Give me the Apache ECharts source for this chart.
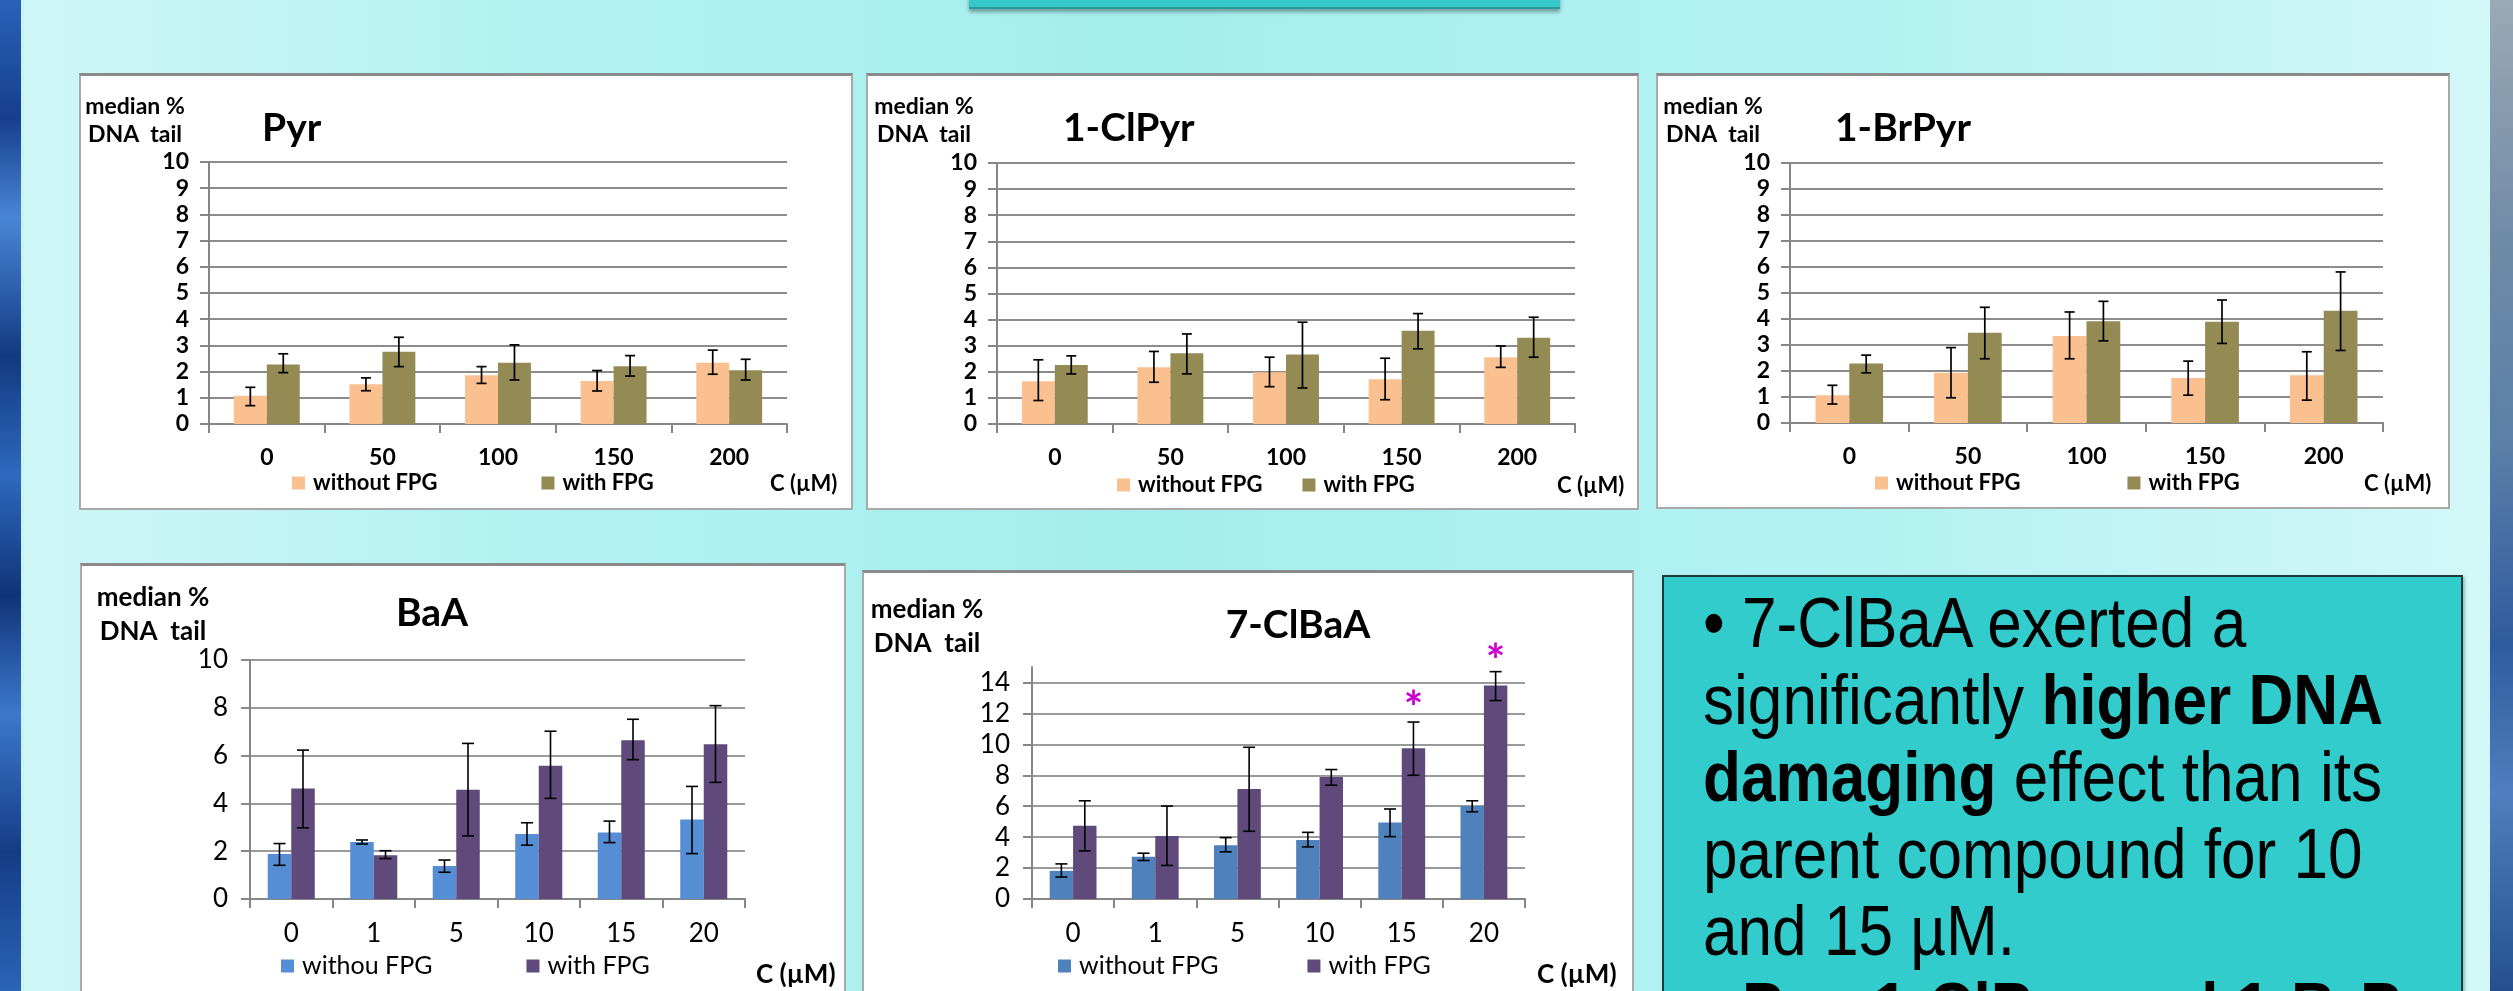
<!DOCTYPE html>
<html>
<head>
<meta charset="utf-8">
<script src="https://cdn.jsdelivr.net/npm/echarts@6/dist/echarts.min.js"></script>
<style>
  html, body { margin: 0; padding: 0; width: 2513px; height: 991px; overflow: hidden; }
  body {
    position: relative;
    background: linear-gradient(90deg, #d0f7f7 0%, #b4f2f2 20%, #a5eeee 45%, #b4f2f2 75%, #d4f8f8 100%);
  }
  .strip-l {
    position: absolute; left: 0; top: 0; width: 21px; height: 991px;
    background: linear-gradient(180deg, #2a62b8 0%, #163f8c 12%, #4a86d6 22%, #123a82 36%, #2f69bd 48%, #0f3479 60%, #3d78cb 72%, #143c86 86%, #2c64b6 100%);
    border-right: 3px solid #c8f4f4;
  }
  .strip-r {
    position: absolute; left: 2490px; top: 0; width: 23px; height: 991px;
    background: linear-gradient(180deg, #9aa9b6 0%, #6f8aa6 25%, #5b7fa8 45%, #2f5c9e 65%, #4f7fc0 80%, #24508f 100%);
  }
  .topbox {
    position: absolute; left: 969px; top: -40px; width: 591px; height: 49px;
    background: #36c8c8; border-bottom: 2px solid #2a9a9a; box-sizing: border-box;
    box-shadow: 0 3px 4px rgba(0, 0, 0, 0.35);
  }
  .panel {
    position: absolute; background: #fff; box-sizing: border-box;
    border: 2px solid #a9a9a9; border-top: 3px solid #8a8a8a;
  }
  #chart { position: absolute; left: 0; top: 0; width: 2513px; height: 991px; }
  .note {
    position: absolute; left: 1662px; top: 575px; width: 801px; height: 440px;
    box-sizing: border-box; background: #33cccc; border: 2px solid #1c3c3c;
    overflow: hidden;
    box-shadow: 2px 2px 3px rgba(0, 0, 0, 0.25);
  }
  .note div {
    position: absolute; left: 39px; top: 7px;
    font-family: 'Liberation Sans', Arial, sans-serif; font-size: 71px; line-height: 77px;
    color: #000; white-space: nowrap;
    transform: scaleX(0.875); transform-origin: 0 0;
  }
</style>
</head>
<body>
<div class="strip-l"></div>
<div class="strip-r"></div>
<div class="topbox"></div>
<div class="panel" style="left:79px;top:73px;width:774px;height:437px;"></div>
<div class="panel" style="left:866px;top:73px;width:773px;height:437px;"></div>
<div class="panel" style="left:1656px;top:73px;width:794px;height:436px;"></div>
<div class="panel" style="left:80px;top:563px;width:766px;height:440px;"></div>
<div class="panel" style="left:862px;top:570px;width:772px;height:440px;"></div>
<div id="chart"></div>
<div class="note"><div>
  • 7-ClBaA exerted a<br>
  significantly <b>higher DNA</b><br>
  <b>damaging</b> effect than its<br>
  parent compound for 10<br>
  and 15 µM.<br>
  • <b>Pyr, 1-ClPyr and 1-BrPyr</b>
</div></div>
<script>
// 浓度分类
const pyrCats = ['0', '50', '100', '150', '200'];
const baaCats = ['0', '1', '5', '10', '15', '20'];

// Pyr
const pyrWithout = [1.08, 1.52, 1.86, 1.64, 2.34];
const pyrWithoutErr = [[0.70, 1.40], [1.27, 1.76], [1.55, 2.19], [1.26, 2.04], [1.90, 2.82]];
const pyrWith = [2.27, 2.76, 2.34, 2.20, 2.05];
const pyrWithErr = [[1.96, 2.68], [2.19, 3.31], [1.68, 3.02], [1.83, 2.61], [1.68, 2.47]];

// 1-ClPyr
const clPyrWithout = [1.64, 2.17, 1.98, 1.71, 2.56];
const clPyrWithoutErr = [[0.90, 2.46], [1.60, 2.78], [1.43, 2.56], [0.93, 2.52], [2.17, 2.99]];
const clPyrWith = [2.26, 2.71, 2.66, 3.57, 3.30];
const clPyrWithErr = [[1.92, 2.61], [1.92, 3.45], [1.38, 3.90], [2.88, 4.23], [2.56, 4.09]];

// 1-BrPyr
const brPyrWithout = [1.07, 1.93, 3.35, 1.73, 1.84];
const brPyrWithoutErr = [[0.73, 1.45], [0.97, 2.90], [2.47, 4.27], [1.07, 2.38], [0.88, 2.74]];
const brPyrWith = [2.29, 3.47, 3.91, 3.89, 4.32];
const brPyrWithErr = [[1.93, 2.61], [2.47, 4.45], [3.16, 4.68], [3.06, 4.73], [2.79, 5.81]];

// BaA
const baaWithout = [1.88, 2.38, 1.38, 2.72, 2.78, 3.33];
const baaWithoutErr = [[1.41, 2.32], [2.30, 2.47], [1.12, 1.63], [2.25, 3.19], [2.36, 3.26], [1.90, 4.71]];
const baaWith = [4.62, 1.83, 4.57, 5.58, 6.64, 6.47];
const baaWithErr = [[2.98, 6.23], [1.69, 2.02], [2.64, 6.51], [4.21, 7.02], [5.83, 7.52], [4.88, 8.09]];

// 7-ClBaA
const clBaaWithout = [1.82, 2.73, 3.48, 3.82, 4.94, 6.01];
const clBaaWithoutErr = [[1.42, 2.27], [2.49, 2.96], [3.05, 3.97], [3.37, 4.31], [4.03, 5.82], [5.64, 6.35]];
const clBaaWith = [4.74, 4.08, 7.12, 7.88, 9.74, 13.80];
const clBaaWithErr = [[3.11, 6.35], [2.17, 6.01], [4.38, 9.81], [7.36, 8.37], [8.00, 11.44], [12.83, 14.70]];
// 显著性星号 [分类, 高度]
const clBaaStars = [[4, 13.0], [5, 16.0]];

const FONT = 'Lato, "Open Sans", sans-serif';
const GAP = 0.43;

// 两种图表风格
const styleA = {
  tick: { fontWeight: 'bold', fontSize: 23 },
  cat: { fontWeight: 'bold', fontSize: 23 },
  legend: { fontWeight: 'bold', fontSize: 22 },
  median: 'bold 23px ' + FONT, medianLH: 28,
  title: 'bold 39px ' + FONT,
  cLabel: 'bold 22px ' + FONT,
  errWidth: 1.7, cap: 10, yMargin: 20, xMargin: 22,
  gridColor: '#8c8c8c',
};
const styleB = {
  tick: { fontWeight: 'normal', fontSize: 26 },
  cat: { fontWeight: 'normal', fontSize: 26 },
  legend: { fontWeight: 'normal', fontSize: 25 },
  median: 'bold 26px ' + FONT, medianLH: 34,
  title: 'bold 39px ' + FONT,
  cLabel: 'bold 26px ' + FONT,
  errWidth: 1.6, cap: 12, yMargin: 22, xMargin: 22,
  gridColor: '#9a9a9a',
};

const panels = [
  {
    title: 'Pyr', titleAlign: 'left', st: styleA, cats: pyrCats,
    names: ['without FPG', 'with FPG'], colors: ['#FAC090', '#948A54'],
    without: pyrWithout, withoutErr: pyrWithoutErr, withF: pyrWith, withErr: pyrWithErr,
    grid: { left: 209, top: 162, width: 578, height: 262 }, yMax: 10, yStep: 1,
    median: [135, 121], titlePos: [262, 128], legend: [292, 484, 104], cPos: [770, 484],
  },
  {
    title: '1-ClPyr', titleAlign: 'left', st: styleA, cats: pyrCats,
    names: ['without FPG', 'with FPG'], colors: ['#FAC090', '#948A54'],
    without: clPyrWithout, withoutErr: clPyrWithoutErr, withF: clPyrWith, withErr: clPyrWithErr,
    grid: { left: 997, top: 163, width: 578, height: 261 }, yMax: 10, yStep: 1,
    median: [924, 121], titlePos: [1063, 128], legend: [1117, 486, 40], cPos: [1557, 486],
  },
  {
    title: '1-BrPyr', titleAlign: 'left', st: styleA, cats: pyrCats,
    names: ['without FPG', 'with FPG'], colors: ['#FAC090', '#948A54'],
    without: brPyrWithout, withoutErr: brPyrWithoutErr, withF: brPyrWith, withErr: brPyrWithErr,
    grid: { left: 1790, top: 163, width: 593, height: 260 }, yMax: 10, yStep: 1,
    median: [1713, 121], titlePos: [1835, 128], legend: [1875, 484, 107], cPos: [2364, 484],
  },
  {
    title: 'BaA', titleAlign: 'center', st: styleB, cats: baaCats,
    names: ['withou FPG', 'with FPG'], colors: ['#558ED5', '#604A7B'],
    without: baaWithout, withoutErr: baaWithoutErr, withF: baaWith, withErr: baaWithErr,
    grid: { left: 250, top: 660, width: 495, height: 239 }, yMax: 10, yStep: 2,
    median: [153, 615], titlePos: [432, 613], legend: [281, 967, 94], cPos: [756, 975],
  },
  {
    title: '7-ClBaA', titleAlign: 'center', st: styleB, cats: baaCats,
    names: ['without FPG', 'with FPG'], colors: ['#4F81BD', '#604A7B'],
    without: clBaaWithout, withoutErr: clBaaWithoutErr, withF: clBaaWith, withErr: clBaaWithErr,
    grid: { left: 1032, top: 667, width: 493, height: 232 }, yMax: 15, yStep: 2,
    median: [927, 627], titlePos: [1298, 625], legend: [1058, 967, 89], cPos: [1537, 975],
    stars: clBaaStars,
  },
];

const option = {
  animation: false,
  grid: [], xAxis: [], yAxis: [], legend: [], series: [], graphic: [],
};

panels.forEach((p, i) => {
  const st = p.st;
  option.grid.push(Object.assign({}, p.grid));
  option.xAxis.push({
    type: 'category', gridIndex: i, data: p.cats,
    axisLine: { lineStyle: { color: '#868686', width: 2 } },
    axisTick: { show: true, length: 9, lineStyle: { color: '#868686', width: 2 } },
    axisLabel: Object.assign({ color: '#000', fontFamily: FONT, margin: st.xMargin }, st.cat),
  });
  option.yAxis.push({
    type: 'value', gridIndex: i, min: 0, max: p.yMax, interval: p.yStep,
    axisLine: { show: true, lineStyle: { color: '#868686', width: 2 } },
    axisTick: { show: true, length: 9, lineStyle: { color: '#868686', width: 2 } },
    axisLabel: Object.assign({ color: '#000', fontFamily: FONT, margin: st.yMargin, showMaxLabel: p.yMax % p.yStep === 0 }, st.tick),
    splitLine: { showMaxLine: p.yMax % p.yStep === 0, lineStyle: { color: st.gridColor, width: 2 } },
  });
  option.legend.push({
    left: p.legend[0], top: p.legend[1] - st.legend.fontSize / 2 - 1, padding: 0,
    itemGap: p.legend[2], itemWidth: 13, itemHeight: 13, icon: 'rect', selectedMode: false,
    textStyle: Object.assign({ color: '#000', fontFamily: FONT, padding: [0, 0, 0, 3] }, st.legend),
    data: [
      { name: p.names[0], itemStyle: { color: p.colors[0] } },
      { name: p.names[1], itemStyle: { color: p.colors[1] } },
    ],
  });
  option.series.push(
    {
      type: 'bar', name: p.names[0], xAxisIndex: i, yAxisIndex: i, data: p.without,
      barGap: '0%', barCategoryGap: (GAP * 100) + '%', itemStyle: { color: p.colors[0] },
    },
    {
      type: 'bar', name: p.names[1], xAxisIndex: i, yAxisIndex: i, data: p.withF,
      barGap: '0%', barCategoryGap: (GAP * 100) + '%', itemStyle: { color: p.colors[1] },
    }
  );
  // 误差线
  const errData = p.withoutErr.map((e, k) => [k, e[0], e[1], -1])
    .concat(p.withErr.map((e, k) => [k, e[0], e[1], 1]));
  option.series.push({
    type: 'custom', xAxisIndex: i, yAxisIndex: i, z: 5, data: errData,
    encode: { x: 0, y: [1, 2] },
    renderItem: (params, api) => {
      const hi = api.coord([api.value(0), api.value(2)]);
      const lo = api.coord([api.value(0), api.value(1)]);
      const band = api.size([1, 0])[0];
      const x = hi[0] + api.value(3) * band * (1 - GAP) / 4;
      const c = st.cap / 2;
      const ls = { stroke: '#000', lineWidth: st.errWidth };
      return {
        type: 'group', children: [
          { type: 'line', shape: { x1: x, y1: hi[1], x2: x, y2: lo[1] }, style: ls },
          { type: 'line', shape: { x1: x - c, y1: hi[1], x2: x + c, y2: hi[1] }, style: ls },
          { type: 'line', shape: { x1: x - c, y1: lo[1], x2: x + c, y2: lo[1] }, style: ls },
        ],
      };
    },
  });
  if (p.stars) {
    option.series.push({
      type: 'custom', xAxisIndex: i, yAxisIndex: i, z: 6, data: p.stars,
      renderItem: (params, api) => {
        const pt = api.coord([api.value(0), api.value(1)]);
        const band = api.size([1, 0])[0];
        // 星号字形偏上，下移约 0.25em
        return {
          type: 'text', x: pt[0] + band * (1 - GAP) / 4, y: pt[1] + 11,
          style: { text: '*', font: 'bold 46px ' + FONT, fill: '#cc00cc', align: 'center', verticalAlign: 'middle' },
        };
      },
    });
  }
  option.graphic.push(
    {
      type: 'text', x: p.median[0], y: p.median[1],
      style: { text: 'median %\nDNA  tail', font: st.median, lineHeight: st.medianLH, fill: '#000', align: 'center', verticalAlign: 'middle' },
    },
    {
      type: 'text', x: p.titlePos[0], y: p.titlePos[1],
      style: { text: p.title, font: st.title, fill: '#000', align: p.titleAlign, verticalAlign: 'middle' },
    },
    {
      type: 'text', x: p.cPos[0], y: p.cPos[1],
      style: { text: 'C (µM)', font: st.cLabel, fill: '#000', align: 'left', verticalAlign: 'middle' },
    }
  );
});

const mychart = echarts.init(document.getElementById('chart'));
mychart.setOption(option);
</script>
</body>
</html>
